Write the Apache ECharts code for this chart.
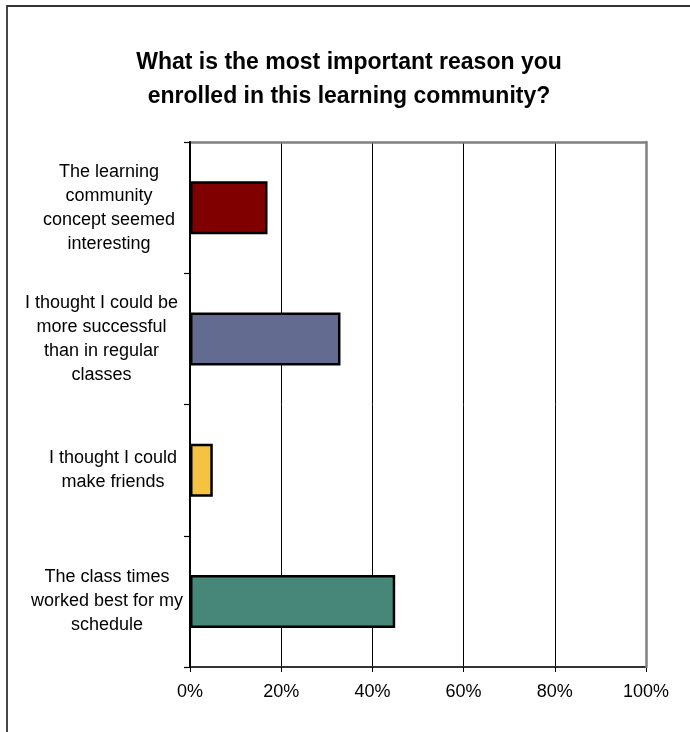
<!DOCTYPE html>
<html>
<head>
<meta charset="utf-8">
<script src="https://cdn.jsdelivr.net/npm/echarts@6/dist/echarts.min.js"></script>
<style>
html,body{margin:0;padding:0;background:#fff;}
#chart{width:690px;height:732px;}
</style>
</head>
<body>
<div id="chart"></div>
<script>
var titleText = 'What is the most important reason you\nenrolled in this learning community?';
var categories = [
  'The learning\ncommunity\nconcept seemed\ninteresting',
  'I thought I could be\nmore successful\nthan in regular\nclasses',
  'I thought I could\nmake friends',
  'The class times\nworked best for my\nschedule'
];
var values = [17, 33, 5, 45];
var barColors = ['#800000', '#636b91', '#f5c342', '#47877a'];
var xTicks = [0, 20, 40, 60, 80, 100];

var FONT = 'Liberation Sans, Arial, sans-serif';
var labelShift = [8, 23, 0, 12];
var rich = {};
labelShift.forEach(function (p, i) {
  rich['c' + i] = {fontSize: 18, lineHeight: 24, color: '#000', fontFamily: FONT, padding: [0, p, 0, 0]};
});

var chart = echarts.init(document.getElementById('chart'));
chart.setOption({
  backgroundColor: '#ffffff',
  animation: false,
  graphic: [{
    type: 'rect',
    shape: {x: 7, y: 6, width: 720, height: 760},
    style: {fill: 'none', stroke: '#333', lineWidth: 1.8},
    silent: true
  }],
  title: {
    text: titleText,
    left: 344,
    textAlign: 'center',
    top: 41,
    textStyle: {fontFamily: FONT, fontSize: 23, fontWeight: 'bold', color: '#000', lineHeight: 34}
  },
  grid: {
    left: 190, right: 44, top: 142, bottom: 65,
    show: false
  },
  xAxis: [{
    type: 'value',
    position: 'bottom',
    min: xTicks[0], max: xTicks[xTicks.length - 1], interval: 20,
    axisLine: {show: true, onZero: false, lineStyle: {color: '#333', width: 2}},
    axisTick: {show: true, length: 5, lineStyle: {color: '#000'}},
    axisLabel: {formatter: '{value}%', color: '#000', fontSize: 18, margin: 16, fontFamily: FONT},
    splitLine: {show: true, lineStyle: {color: '#000', width: 1}}
  }, {
    type: 'value', position: 'top',
    min: xTicks[0], max: xTicks[xTicks.length - 1], interval: 20,
    axisLine: {show: true, onZero: false, lineStyle: {color: '#808080', width: 2.5}},
    axisTick: {show: false}, axisLabel: {show: false}, splitLine: {show: false}
  }],
  yAxis: [{
    type: 'category',
    position: 'left',
    data: categories,
    inverse: true,
    axisLine: {show: true, onZero: false, lineStyle: {color: '#000', width: 2}},
    axisTick: {show: true, length: 6, lineStyle: {color: '#000', width: 1.2}},
    axisLabel: {
      align: 'center', margin: 77, rich: rich,
      formatter: function (v, i) {
        return v.split('\n').map(function (l) { return '{c' + i + '|' + l + '}'; }).join('\n');
      }
    },
    splitLine: {show: false},
    z: 3
  }, {
    type: 'category',
    data: categories,
    inverse: true,
    position: 'right',
    axisLine: {show: true, onZero: false, lineStyle: {color: '#808080', width: 2.5}},
    axisTick: {show: false}, axisLabel: {show: false}, splitLine: {show: false},
    z: 3
  }],
  series: [{
    type: 'bar',
    barWidth: 53,
    data: values.map(function (v, i) {
      return {value: v, itemStyle: {color: barColors[i], borderColor: '#000', borderWidth: 2.5}};
    })
  }]
});
</script>
</body>
</html>
